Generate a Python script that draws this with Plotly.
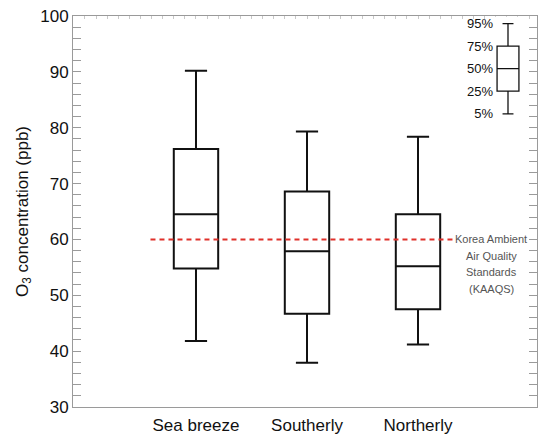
import plotly.graph_objects as go

# ---- data ----
categories = ["Sea breeze", "Southerly", "Northerly"]
p5 = [41.8, 37.9, 41.2]
p25 = [54.8, 46.7, 47.5]
p50 = [64.5, 57.9, 55.2]
p75 = [76.2, 68.6, 64.5]
p95 = [90.2, 79.3, 78.4]
kaaqs_value = 60
kaaqs_span = [-0.41, 2.32]
kaaqs_lines = ["Korea Ambient", "Air Quality", "Standards", "(KAAQS)"]
key_positions = [0, 1, 2, 3, 4]
key_labels = ["5%", "25%", "50%", "75%", "95%"]

FONT = "Liberation Sans, Arial, Helvetica, sans-serif"
AXC = "#9a9a9a"
XR = [-1.108, 3.072]
xpos = list(range(len(categories)))

fig = go.Figure()
fig.add_trace(go.Box(
    x=xpos, q1=p25, median=p50, q3=p75, lowerfence=p5, upperfence=p95,
    width=0.4, whiskerwidth=0.5, fillcolor="rgba(0,0,0,0)",
    line=dict(color="#111111", width=2), boxpoints=False, showlegend=False,
    hoverinfo="skip"))

fig.add_trace(go.Scatter(
    x=kaaqs_span, y=[kaaqs_value, kaaqs_value], mode="lines",
    line=dict(color="#e0302a", width=2, dash="5px,4px"), showlegend=False,
    hoverinfo="skip"))

# invisible trace to carry the top tick axis
fig.add_trace(go.Scatter(x=[None], y=[None], xaxis="x3", yaxis="y",
                         showlegend=False, hoverinfo="skip"))

# key box (inset)
fig.add_trace(go.Box(
    x=[0], q1=[key_positions[1]], median=[key_positions[2]], q3=[key_positions[3]],
    lowerfence=[key_positions[0]], upperfence=[key_positions[4]],
    width=0.78, whiskerwidth=0.5, fillcolor="rgba(0,0,0,0)",
    line=dict(color="#111111", width=1.3), boxpoints=False, showlegend=False,
    xaxis="x2", yaxis="y2", hoverinfo="skip"))

for i, t in enumerate(kaaqs_lines):
    fig.add_annotation(x=2.66, y=kaaqs_value - i * 2.95, xref="x", yref="y",
                       text=t, showarrow=False, xanchor="center", yanchor="middle",
                       font=dict(family=FONT, size=11, color="#555555"))

fig.update_layout(
    width=544, height=435,
    margin=dict(l=73, r=7, t=16, b=28),
    plot_bgcolor="white", paper_bgcolor="white",
    font=dict(family=FONT, color="#111111"),
    xaxis=dict(range=XR, tickvals=xpos, ticktext=categories,
               showgrid=False, zeroline=False, showline=True, linecolor=AXC,
               mirror=True, ticks="", tickfont=dict(size=17), ticklabelstandoff=3,
               automargin=False),
    xaxis3=dict(range=XR, overlaying="x", side="top", anchor="y",
                showgrid=False, zeroline=False, showline=False,
                showticklabels=False, ticks="inside", ticklen=3, dtick=0.1,
                tick0=0, tickcolor="#c8c8c8", automargin=False),
    yaxis=dict(range=[30, 100], dtick=10, showgrid=False, zeroline=False,
               showline=True, linecolor=AXC, mirror="allticks", ticks="inside",
               ticklen=8, tickcolor=AXC, tickfont=dict(size=17),
               minor=dict(dtick=2, ticks="inside", ticklen=4, tickcolor=AXC),
               automargin=False,
               title=dict(text="O<sub>3</sub> concentration (ppb)", font=dict(size=17),
                          standoff=7)),
    xaxis2=dict(domain=[0.9073, 0.9677], range=[-0.5, 0.5], anchor="y2",
                visible=False),
    yaxis2=dict(domain=[0.7326, 0.998], range=[-0.3, 4.3], anchor="x2",
                tickvals=key_positions, ticktext=key_labels, showgrid=False,
                zeroline=False, showline=False, ticks="", automargin=False,
                tickfont=dict(size=13)),
)

fig.write_html("out.html", config={"displayModeBar": False},
               post_script="document.body.style.margin='0';document.body.style.overflow='hidden';")
